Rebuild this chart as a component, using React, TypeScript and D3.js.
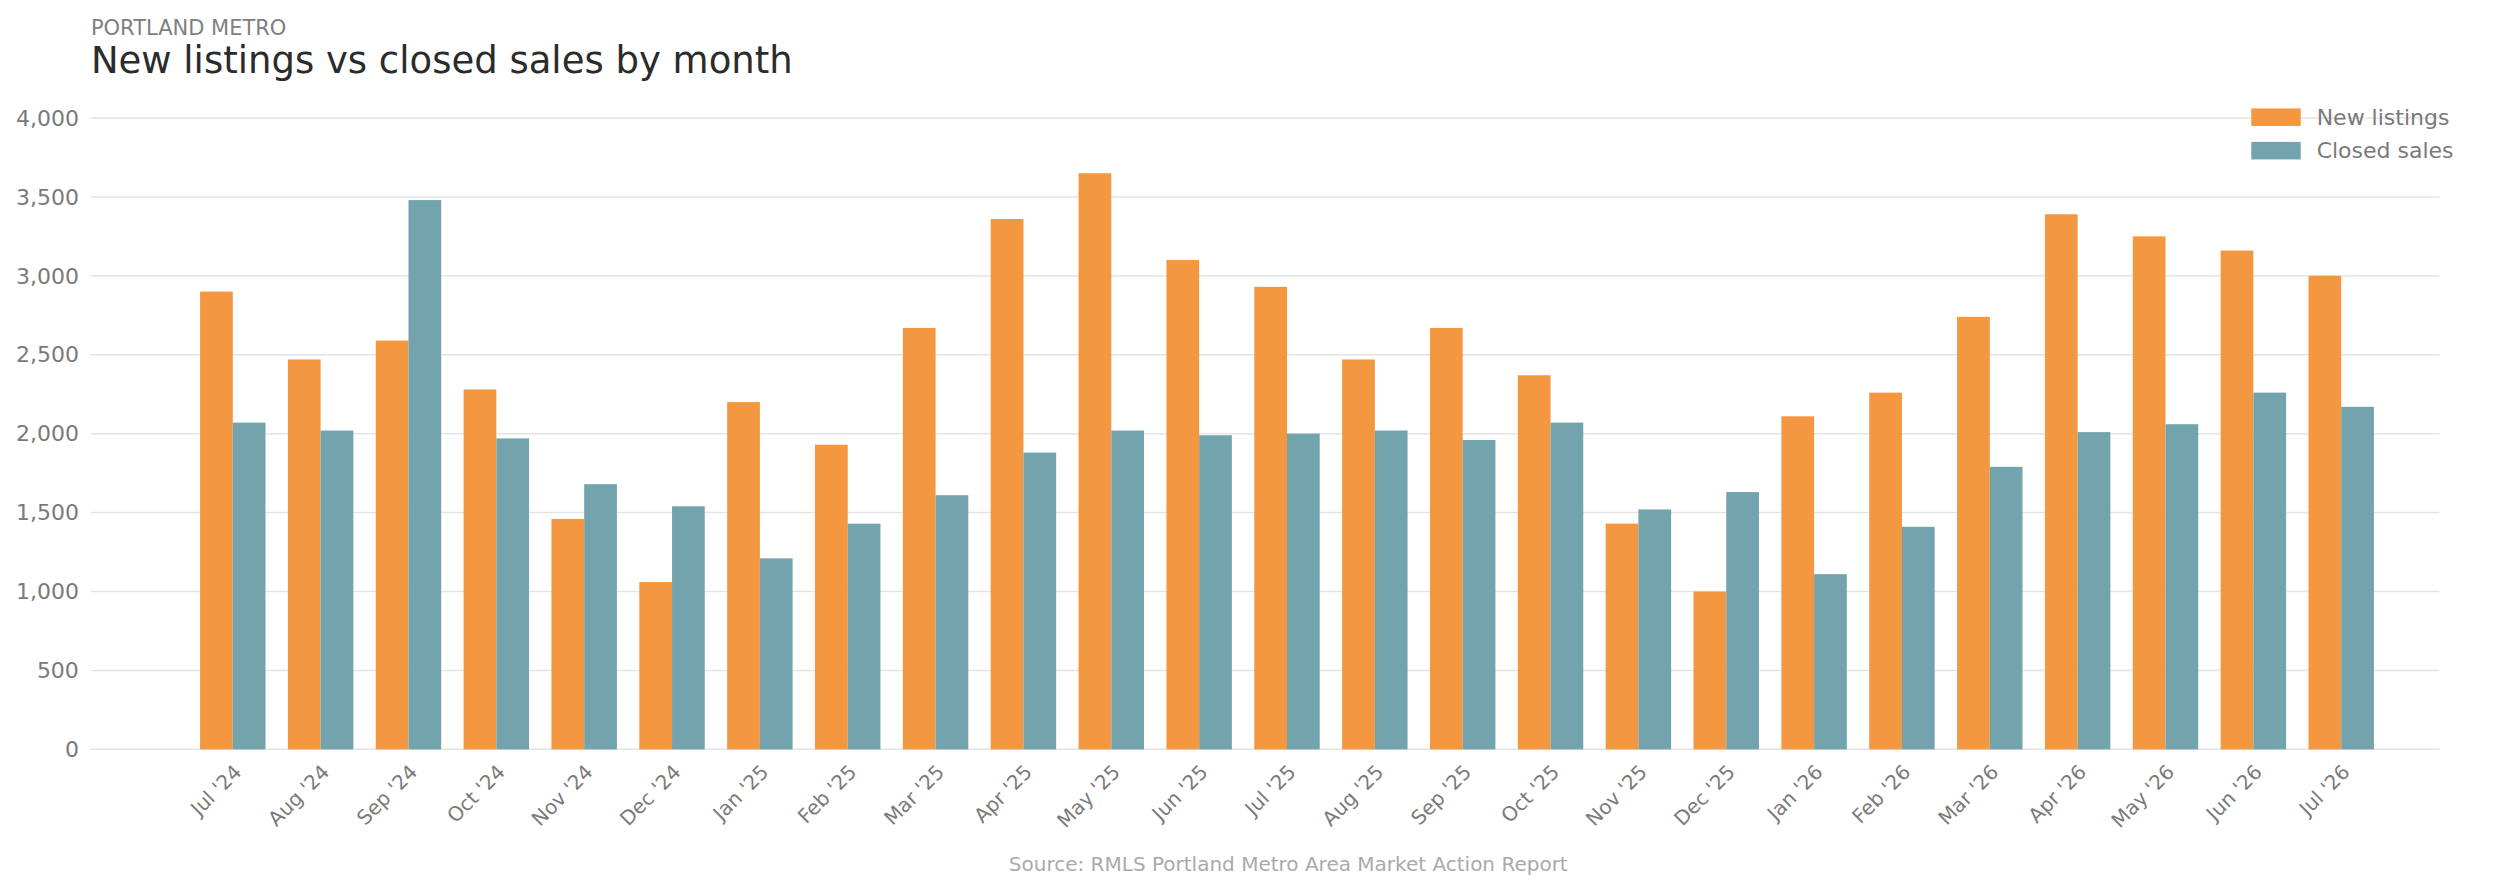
import * as d3 from 'd3'

const months = ["Jul '24", "Aug '24", "Sep '24", "Oct '24", "Nov '24", "Dec '24", "Jan '25", "Feb '25", "Mar '25", "Apr '25", "May '25", "Jun '25", "Jul '25", "Aug '25", "Sep '25", "Oct '25", "Nov '25", "Dec '25", "Jan '26", "Feb '26", "Mar '26", "Apr '26", "May '26", "Jun '26", "Jul '26"]
const newListings = [2900, 2470, 2590, 2280, 1460, 1060, 2200, 1930, 2670, 3360, 3650, 3100, 2930, 2470, 2670, 2370, 1430, 1000, 2110, 2260, 2740, 3390, 3250, 3160, 3000]
const closedSales = [2070, 2020, 3480, 1970, 1680, 1540, 1210, 1430, 1610, 1880, 2020, 1990, 2000, 2020, 1960, 2070, 1520, 1630, 1110, 1410, 1790, 2010, 2060, 2260, 2170]
const yTicks = [0, 500, 1000, 1500, 2000, 2500, 3000, 3500, 4000]
const series = [
  { name: 'New listings', values: newListings, color: '#F39740' },
  { name: 'Closed sales', values: closedSales, color: '#73A4AE' },
]

const W = 2500
const H = 892
const k = W / 1568
const plotLeft = 57 * k
const plotRight = 1530 * k
const font = '"DejaVu Sans", sans-serif'

export default function App() {
  const step = 55.1 * k
  const first = 146 * k
  const x = d3.scaleBand<string>()
    .domain(months)
    .range([first - step / 2, first + step * (months.length - 0.5)])
    .paddingInner(0.255)
    .paddingOuter(0.1275)
  const sub = d3.scaleBand<number>().domain([0, 1]).range([0, x.bandwidth()])
  const y = d3.scaleLinear().domain([0, 4000]).range([470 * k, 74 * k])
  const fmt = d3.format(',')

  return (
    <svg width={W} height={H} style={{ position: 'absolute', left: 0, top: 0, background: '#fff' }} fontFamily={font}>
      <text x={plotLeft} y={22 * k} fontSize={21} fill="#808080">PORTLAND METRO</text>
      <text x={plotLeft} y={46 * k} fontSize={37} fill="#2b2b2b">New listings vs closed sales by month</text>

      {yTicks.map(t => (
        <g key={t}>
          <line x1={plotLeft} x2={plotRight} y1={y(t)} y2={y(t)} stroke="#e4e4e4" strokeWidth={1.5} />
          <text x={plotLeft - 12} y={y(t)} dy="0.35em" textAnchor="end" fontSize={22} fill="#7a7a7a">{fmt(t)}</text>
        </g>
      ))}

      {months.map((m, i) => (
        <g key={m} transform={`translate(${x(m)},0)`}>
          {series.map((s, j) => (
            <rect key={s.name} x={sub(j)} width={sub.bandwidth()} y={y(s.values[i])} height={y(0) - y(s.values[i])} fill={s.color} />
          ))}
        </g>
      ))}

      {months.map(m => {
        const cx = (x(m) ?? 0) + x.bandwidth() / 2
        const cy = y(0) + 14
        return (
          <text key={m} transform={`translate(${cx},${cy}) rotate(-45)`} textAnchor="end" dy="0.7em" fontSize={20} fill="#7a7a7a">{m}</text>
        )
      })}

      {series.map((s, j) => (
        <g key={s.name} transform={`translate(${1412 * k},${(68 + j * 21) * k})`}>
          <rect width={31 * k} height={11 * k} fill={s.color} />
          <text x={41 * k} y={5.5 * k} dy="0.35em" fontSize={22} fill="#7a7a7a">{s.name}</text>
        </g>
      ))}

      <text x={808 * k} y={546 * k} textAnchor="middle" fontSize={20} fill="#aaaaaa">Source: RMLS Portland Metro Area Market Action Report</text>
    </svg>
  )
}
